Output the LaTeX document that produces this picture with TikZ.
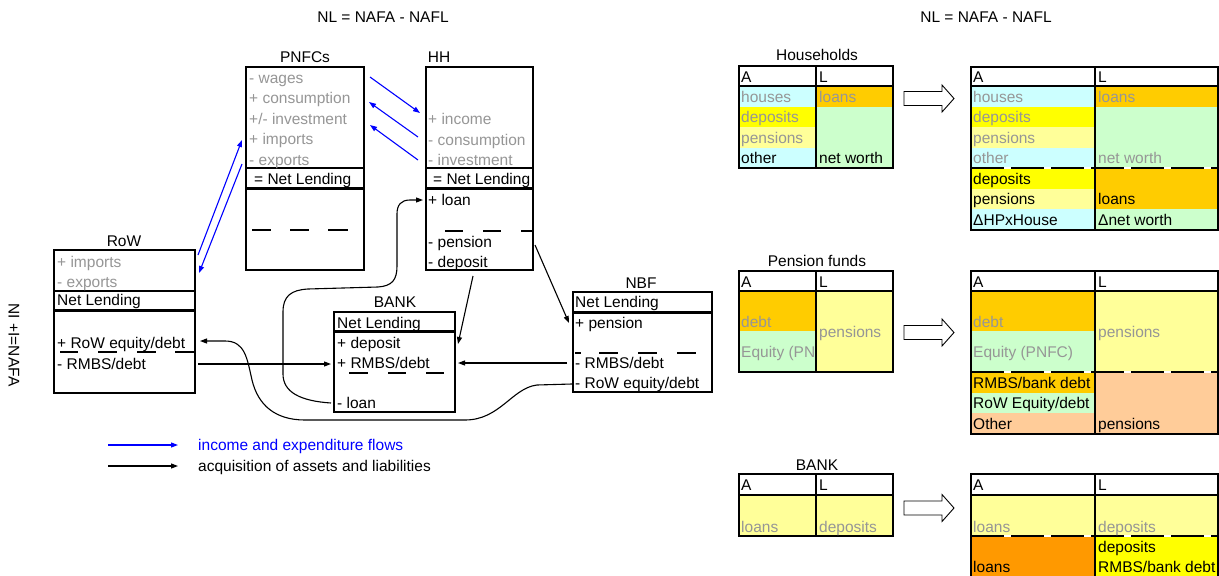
\documentclass[tikz,border=0pt]{standalone}
\usepackage{fontspec}
\setmainfont{Liberation Sans}
\usetikzlibrary{arrows.meta}

\definecolor{cyanlt}{HTML}{CCFFFF}
\definecolor{gold}{HTML}{FFCC00}
\definecolor{yel}{HTML}{FFFF00}
\definecolor{yellt}{HTML}{FFFF99}
\definecolor{greenlt}{HTML}{CCFFCC}
\definecolor{peach}{HTML}{FFCC99}
\definecolor{orng}{HTML}{FF9900}
\definecolor{txtgrey}{HTML}{969696}

\newcommand\fs{\fontsize{15.5}{18}\selectfont}

\tikzset{
  lbl/.style={anchor=base west, inner sep=0pt, font=\fs},
  gl/.style={lbl, text=txtgrey},
  ttl/.style={anchor=base, inner sep=0pt, font=\fs},
  box/.style={draw=black, line width=2pt},
  sep/.style={line width=2pt},
  thicksep/.style={line width=3pt},
  dsh/.style={line width=2.8pt},
  flow/.style={draw=blue, line width=1.1pt, -{Triangle[length=7pt,width=5pt]}},
  acq/.style={draw=black, line width=1.1pt, -{Triangle[length=7pt,width=5pt]}},
  cutline/.style={line width=2.5pt, dash pattern=on 33pt off 7pt},
  bigarrow/.style={draw=black, line width=0.9pt, fill=white},
}

\newcommand\hollowarrow{%
  \draw[bigarrow] (904,91.5) -- (942,91.5) -- (942,85) -- (954,98.5)
    -- (942,112) -- (942,105.5) -- (904,105.5) -- cycle;}

\begin{document}
\begin{tikzpicture}[x=1pt,y=-1pt]
\clip (0,0) rectangle (1219,576);
\fill[white] (0,0) rectangle (1219,576);

% ---------- headings ----------
\node[ttl] (eqL) at (383,22.5) {NL = NAFA - NAFL};
\node[ttl] (eqR) at (986,22.5) {NL = NAFA - NAFL};
\node[font=\fs, rotate=-90, inner sep=0pt] (nia) at (14,345) {NI +I=NAFA};

% ---------- PNFCs ----------
\node[ttl] (t-pnfc) at (305,62.5) {PNFCs};
\draw[box] (246,67) rectangle (364,270);
\draw[sep] (246,168) -- (364,168);
\draw[thicksep] (246,188) -- (364,188);
\node[gl] (p1) at (249,83.5) {- wages};
\node[gl] (p2) at (249,103.5) {+ consumption};
\node[gl] (p3) at (249,124) {+/- investment};
\node[gl] (p4) at (249,144.5) {+ imports};
\node[gl] (p5) at (249,165) {- exports};
\node[lbl] (p6) at (254,184) {= Net Lending};
\draw[dsh] (252,230) -- (271,230) (290,230) -- (309,230) (328,230) -- (348,230);

% ---------- HH ----------
\node[ttl] (t-hh) at (439,62.5) {HH};
\draw[box] (426,67) rectangle (533,270);
\draw[sep] (426,168) -- (533,168);
\draw[thicksep] (426,188) -- (533,188);
\node[gl] (h1) at (428,124.5) {+ income};
\node[gl] (h2) at (428,145) {- consumption};
\node[gl] (h3) at (428,165) {- investment};
\node[lbl] (h4) at (433,184) {= Net Lending};
\node[lbl] (h5) at (428,205.5) {+ loan};
\draw[dsh] (445,231) -- (463,231) (483,231) -- (501,231) (521,231) -- (532,231);
\node[lbl] (h6) at (428,247.5) {- pension};
\node[lbl] (h7) at (428,267.5) {- deposit};

% ---------- RoW ----------
\node[ttl] (t-row) at (124,246.5) {RoW};
\draw[box] (54,250) rectangle (195,393);
\draw[sep] (54,291) -- (195,291);
\draw[thicksep] (54,310) -- (195,310);
\node[gl] (r1) at (57,267.5) {+ imports};
\node[gl] (r2) at (57,287.5) {- exports};
\node[lbl] (r3) at (57,305.5) {Net Lending};
\node[lbl] (r4) at (57,348.5) {+ RoW equity/debt};
\draw[dsh] (60,352) -- (78,352) (98,352) -- (117,352) (137,352) -- (156,352) (175,352) -- (194,352);
\node[lbl] (r5) at (57,369.5) {- RMBS/debt};

% ---------- BANK ----------
\node[ttl] (t-bank) at (395,307.5) {BANK};
\draw[box] (334,312) rectangle (455,412);
\draw[thicksep] (334,331) -- (455,331);
\node[lbl] (k1) at (337,328) {Net Lending};
\node[lbl] (k2) at (337,348.5) {+ deposit};
\node[lbl] (k3) at (337,368.5) {+ RMBS/debt};
\draw[dsh] (349,373) -- (368,373) (388,373) -- (406,373) (426,373) -- (444,373);
\node[lbl] (k4) at (337,408.5) {- loan};

% ---------- NBF ----------
\node[ttl] (t-nbf) at (641,288) {NBF};
\draw[box] (573,292) rectangle (712,392);
\draw[thicksep] (573,312) -- (712,312);
\node[lbl] (n1) at (575,307.5) {Net Lending};
\node[lbl] (n2) at (575,328.5) {+ pension};
\draw[dsh] (575,353) -- (581,353) (599,353) -- (618,353) (638,353) -- (657,353) (677,353) -- (696,353);
\node[lbl] (n3) at (575,368.5) {- RMBS/debt};
\node[lbl] (n4) at (575,388.5) {- RoW equity/debt};

% ---------- flow end points ----------
\coordinate (pnfcOut)  at (370,77);
\coordinate (hhIn)     at (420,113);
\coordinate (hhCons)   at (418,137);
\coordinate (pnfcCons) at (369,102);
\coordinate (hhInv)    at (418,160);
\coordinate (pnfcInv)  at (370,125);
\coordinate (rowImp)   at (198,255);
\coordinate (pnfcImp)  at (242,140);
\coordinate (pnfcExp)  at (242,164);
\coordinate (rowExp)   at (199,273);

\coordinate (rowRmbs)  at (198,364);
\coordinate (bankRmbsL) at (331,364);
\coordinate (nbfRmbs)  at (567,363);
\coordinate (bankRmbsR) at (458,363);
\coordinate (hhDep)    at (473,276);
\coordinate (bankDep)  at (458,344);
\coordinate (hhPen)    at (535,245);
\coordinate (nbfPen)   at (569,323);
\coordinate (bankLoan) at (331,403);
\coordinate (hhLoan)   at (423,200);
\coordinate (nbfRow)   at (572,384);
\coordinate (rowEq)    at (200,341);

% income and expenditure flows
\draw[flow] (pnfcOut) -- (hhIn);
\draw[flow] (hhCons) -- (pnfcCons);
\draw[flow] (hhInv) -- (pnfcInv);
\draw[flow] (rowImp) -- (pnfcImp);
\draw[flow] (pnfcExp) -- (rowExp);

% acquisition of assets and liabilities
\draw[acq] (rowRmbs) -- (bankRmbsL);
\draw[acq] (nbfRmbs) -- (bankRmbsR);
\draw[acq] (hhDep) -- (bankDep);
\draw[acq] (hhPen) -- (nbfPen);
\draw[acq] (bankLoan) .. controls (300,401) and (283,392) .. (283,374)
  -- (283,312) .. controls (283,296) and (291,290) .. (308,289)
  -- (378,287) .. controls (392,286) and (397,280) .. (397,266)
  -- (397,214) .. controls (397,205) and (401,200) .. (410,200) -- (hhLoan);
\draw[acq] (nbfRow) -- (537,385) .. controls (512,388) and (500,420) .. (465,420)
  -- (305,420) .. controls (275,420) and (258,405) .. (252,380)
  .. controls (247,358) and (245,341) .. (225,341) -- (rowEq);

% ---------- legend ----------
\coordinate (lg1a) at (108,445); \coordinate (lg1b) at (178,445);
\coordinate (lg2a) at (108,466); \coordinate (lg2b) at (178,466);
\draw[flow] (lg1a) -- (lg1b);
\draw[acq] (lg2a) -- (lg2b);
\node[lbl, text=blue] (lgt1) at (198,450.5) {income and expenditure flows};
\node[lbl] (lgt2) at (198,471.5) {acquisition of assets and liabilities};

% ========== balance sheets ==========
% --- Households, before ---
\node[ttl] (t-hhA) at (817,60.5) {Households};
\fill[cyanlt]  (739,86) rectangle (816,106.5);
\fill[yel]     (739,106.5) rectangle (816,127);
\fill[yellt]   (739,127) rectangle (816,147.5);
\fill[cyanlt]  (739,147.5) rectangle (816,168);
\fill[gold]    (816,86) rectangle (893,106.5);
\fill[greenlt] (816,106.5) rectangle (893,168);
\draw[sep] (739,86) -- (893,86);
\draw[sep] (816,66) -- (816,168);
\draw[box] (739,66) rectangle (893,168);
\node[lbl] (ha0) at (741,82) {A};
\node[lbl] (hl0) at (819,82) {L};
\node[gl] (ha1) at (741,102) {houses};
\node[gl] (hl1) at (819,102) {loans};
\node[gl] (ha2) at (741,122.5) {deposits};
\node[gl] (ha3) at (741,143) {pensions};
\node[lbl] (ha4) at (741,163.5) {other};
\node[lbl] (hl4) at (819,163.5) {net worth};

\hollowarrow

% --- Households, after ---
\fill[cyanlt]  (971,86) rectangle (1095,106.5);
\fill[yel]     (971,106.5) rectangle (1095,127);
\fill[yellt]   (971,127) rectangle (1095,147.5);
\fill[cyanlt]  (971,147.5) rectangle (1095,168);
\fill[yel]     (971,168) rectangle (1095,188.5);
\fill[yellt]   (971,188.5) rectangle (1095,209);
\fill[cyanlt]  (971,209) rectangle (1095,229.5);
\fill[gold]    (1095,86) rectangle (1218,106.5);
\fill[greenlt] (1095,106.5) rectangle (1218,168);
\fill[gold]    (1095,168) rectangle (1218,209);
\fill[greenlt] (1095,209) rectangle (1218,229.5);
\draw[sep] (971,86) -- (1218,86);
\draw[white, line width=2.5pt] (971,168) -- (1218,168);
\draw[cutline] (971,168) -- (1218,168);
\draw[sep] (1095,67) -- (1095,229.5);
\draw[box] (971,67) rectangle (1218,229.5);
\node[lbl] (HA0) at (973,82) {A};
\node[lbl] (HL0) at (1098,82) {L};
\node[gl] (HA1) at (973,102) {houses};
\node[gl] (HL1) at (1098,102) {loans};
\node[gl] (HA2) at (973,122.5) {deposits};
\node[gl] (HA3) at (973,143) {pensions};
\node[gl] (HA4) at (973,163.5) {other};
\node[gl] (HL4) at (1098,163.5) {net worth};
\node[lbl] (HA5) at (973,184) {deposits};
\node[lbl] (HA6) at (973,204.5) {pensions};
\node[lbl] (HA7) at (973,225) {ΔHPxHouse};
\node[lbl] (HL6) at (1098,204.5) {loans};
\node[lbl] (HL7) at (1098,225) {Δnet worth};

% --- Pension funds, before ---
\node[ttl] (t-pf) at (817,266.5) {Pension funds};
\fill[gold]    (739,291) rectangle (816,331);
\fill[greenlt] (739,331) rectangle (816,372);
\fill[yellt]   (816,291) rectangle (893,372);
\begin{scope}
  \clip (739,331) rectangle (815,372);
  \node[gl] (pa2) at (741,357) {Equity (PNFC)};
\end{scope}
\draw[sep] (739,291) -- (893,291);
\draw[sep] (816,271) -- (816,372);
\draw[box] (739,271) rectangle (893,372);
\node[lbl] (pa0) at (741,287) {A};
\node[lbl] (pl0) at (819,287) {L};
\node[gl] (pa1) at (741,327) {debt};
\node[gl] (pl1) at (819,337) {pensions};

\begin{scope}[shift={(0,234)}]
  \hollowarrow
\end{scope}

% --- Pension funds, after ---
\fill[gold]    (971,291) rectangle (1095,331);
\fill[greenlt] (971,331) rectangle (1095,372);
\fill[gold]    (971,372) rectangle (1095,392.5);
\fill[greenlt] (971,392.5) rectangle (1095,413);
\fill[peach]   (971,413) rectangle (1095,433.5);
\fill[yellt]   (1095,291) rectangle (1218,372);
\fill[peach]   (1095,372) rectangle (1218,433.5);
\draw[sep] (971,291) -- (1218,291);
\draw[white, line width=2.5pt] (971,372) -- (1218,372);
\draw[cutline] (971,372) -- (1218,372);
\draw[sep] (1095,271) -- (1095,433.5);
\draw[box] (971,271) rectangle (1218,433.5);
\node[lbl] (PA0) at (973,287) {A};
\node[lbl] (PL0) at (1098,287) {L};
\node[gl] (PA1) at (973,327) {debt};
\node[gl] (PA2) at (973,357) {Equity (PNFC)};
\node[gl] (PL1) at (1098,337) {pensions};
\node[lbl] (PA3) at (973,388) {RMBS/bank debt};
\node[lbl] (PA4) at (973,408.5) {RoW Equity/debt};
\node[lbl] (PA5) at (973,429) {Other};
\node[lbl] (PL5) at (1098,429) {pensions};

% --- BANK, before ---
\node[ttl] (t-bk) at (817,470.5) {BANK};
\fill[yellt] (739,495) rectangle (893,536);
\draw[sep] (739,495) -- (893,495);
\draw[sep] (816,474) -- (816,536);
\draw[box] (739,474) rectangle (893,536);
\node[lbl] (ba0) at (741,490.5) {A};
\node[lbl] (bl0) at (819,490.5) {L};
\node[gl] (ba1) at (741,532) {loans};
\node[gl] (bl1) at (819,532) {deposits};

\begin{scope}[shift={(0,409.5)}]
  \hollowarrow
\end{scope}

% --- BANK, after ---
\fill[yellt] (971,495) rectangle (1218,536);
\fill[orng]  (971,536) rectangle (1095,590);
\fill[yel]   (1095,536) rectangle (1218,590);
\draw[sep] (971,495) -- (1218,495);
\draw[white, line width=2.5pt] (971,536) -- (1218,536);
\draw[cutline] (971,536) -- (1218,536);
\draw[sep] (1095,474) -- (1095,590);
\draw[box] (971,474) rectangle (1218,590);
\node[lbl] (BA0) at (973,490.5) {A};
\node[lbl] (BL0) at (1098,490.5) {L};
\node[gl] (BA1) at (973,532) {loans};
\node[gl] (BL1) at (1098,532) {deposits};
\node[lbl] (BL2) at (1098,552.5) {deposits};
\node[lbl] (BL3) at (1098,572.5) {RMBS/bank debt};
\node[lbl] (BA3) at (973,572.5) {loans};
\end{tikzpicture}
\end{document}
